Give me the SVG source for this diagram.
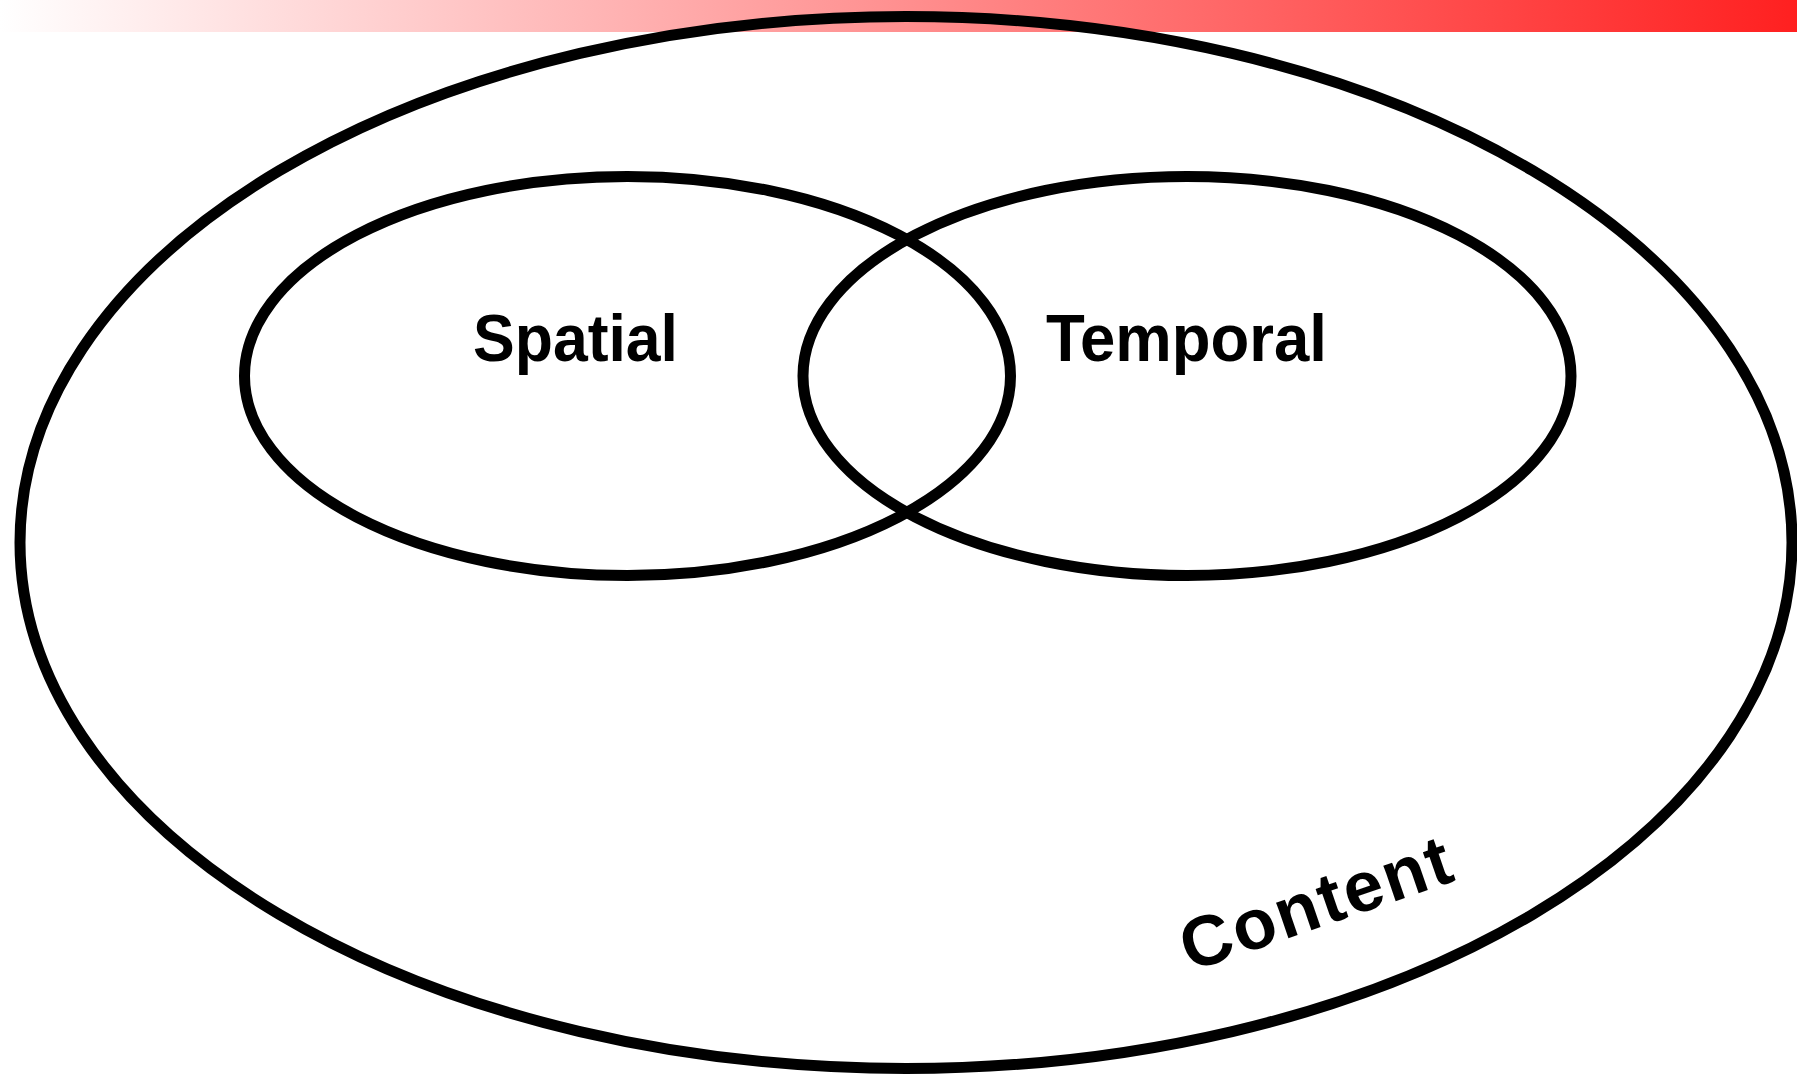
<svg xmlns="http://www.w3.org/2000/svg" width="1797" height="1074" viewBox="0 0 1797 1074">
  <defs>
    <linearGradient id="banner" x1="0" y1="0" x2="1" y2="0">
      <stop offset="0" stop-color="#ffffff"/>
      <stop offset="1" stop-color="#ff2020"/>
    </linearGradient>
    <style>
      .ring { fill: none; stroke: #000; stroke-width: 11; }
      .label { font-family: "Liberation Sans", Arial, Helvetica, sans-serif; font-weight: bold; font-size: 66px; fill: #000; }
      .outer-label { font-size: 71px; }
    </style>
  </defs>

  <rect width="1797" height="1074" fill="#ffffff"/>
  <!-- header band -->
  <rect x="0" y="0" width="1797" height="32" fill="url(#banner)"/>

  <g id="content">
    <ellipse class="ring" cx="906" cy="542.5" rx="886" ry="526"/>
    <text class="label outer-label" x="1190" y="972" transform="rotate(-19 1190 972)" textLength="282" lengthAdjust="spacing">Content</text>
  </g>

  <g id="spatial">
    <ellipse class="ring" cx="627.5" cy="376" rx="383" ry="199.5"/>
    <text class="label" x="473" y="361" textLength="205" lengthAdjust="spacingAndGlyphs">Spatial</text>
  </g>

  <g id="temporal">
    <ellipse class="ring" cx="1187" cy="376" rx="384" ry="199.5"/>
    <text class="label" x="1046" y="361" textLength="281" lengthAdjust="spacingAndGlyphs">Temporal</text>
  </g>

  <g id="connectors"/>
</svg>
